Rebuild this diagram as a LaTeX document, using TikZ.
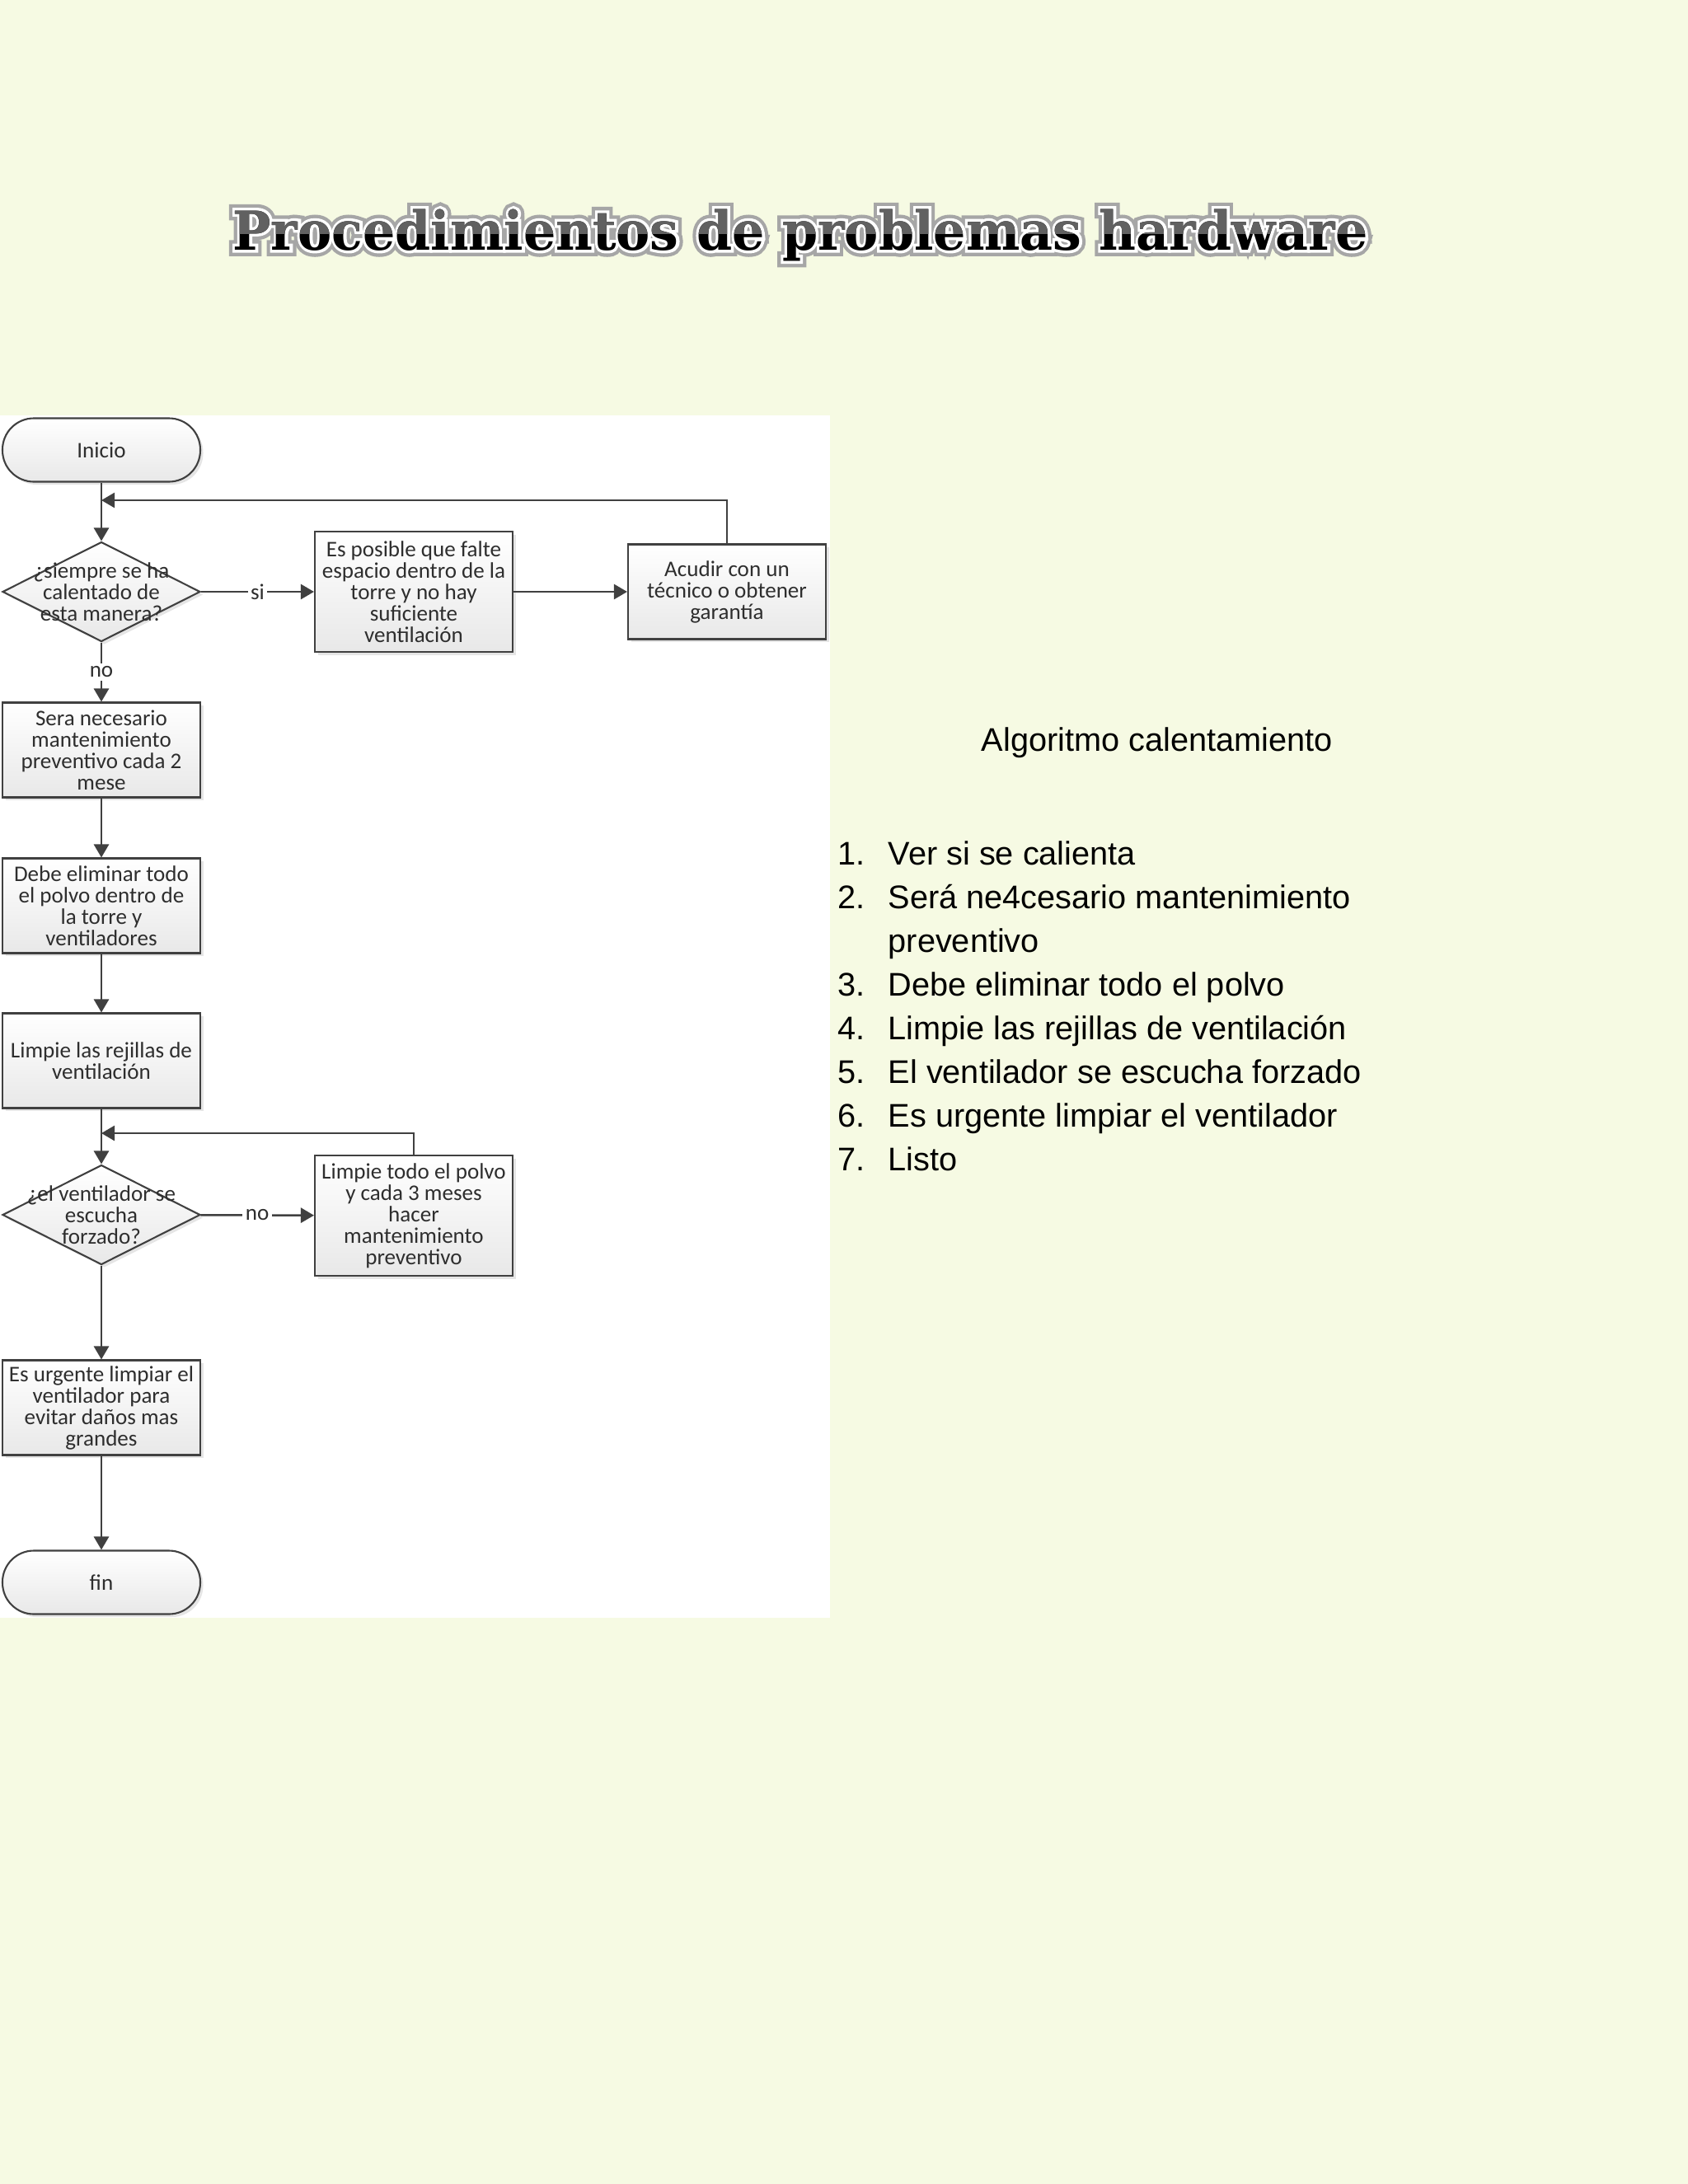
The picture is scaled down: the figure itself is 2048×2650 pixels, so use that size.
\documentclass[tikz,border=0pt]{standalone}
\usepackage{fontspec}
\setmainfont{Liberation Sans}
\newfontfamily\flowfont{Carlito}
\newfontfamily\titlefont{DejaVu Serif Bold}
\newfontfamily\titlerim{DejaVu Serif Bold}[FakeBold=10.8]
\newfontfamily\titlehalo{DejaVu Serif Bold}[FakeBold=24]
\usetikzlibrary{arrows.meta,shapes.geometric,shadows}

\definecolor{paper}{RGB}{246,250,227}
\definecolor{linegray}{RGB}{64,64,64}
\definecolor{boxgray}{RGB}{232,232,232}

\newcommand{\titletxt}{\scalebox{0.95}[1]{Procedimientos de problemas hardware}}

\tikzset{
  flow/.style={font=\flowfont\fontsize{7.7}{7.4}\selectfont, text=black!82, align=center},
  boxshade/.style={draw=linegray, line width=0.6pt, top color=white, bottom color=boxgray,
    drop shadow={shadow xshift=1pt, shadow yshift=-1pt, opacity=0.2}},
  process/.style={flow, boxshade, rectangle, minimum width=24mm, minimum height=11.5mm, inner sep=1pt},
  terminal/.style={flow, boxshade, rectangle, rounded corners=3.8mm, minimum width=24mm, minimum height=7.7mm},
  decision/.style={boxshade, diamond, minimum width=24mm, minimum height=12.1mm, inner sep=0pt},
  link/.style={draw=linegray, line width=0.7pt, -{Triangle[width=5.2pt,length=4.6pt]}},
  tag/.style={flow, fill=white, inner sep=1pt},
  titletext/.style={font=\titlefont\fontsize{18.5}{20}\selectfont, anchor=base, inner sep=0pt},
  item/.style={font=\fontsize{11.3}{15.1}\selectfont, anchor=base west, inner sep=0pt},
}

\begin{document}
\begin{tikzpicture}[x=0.1mm,y=-0.1mm]
\fill[paper] (0,0) rectangle (2048,2650);
\useasboundingbox (0,0) rectangle (2048,2650);

% title
\node[titletext, font=\titlehalo\fontsize{18.5}{20}\selectfont, text=black!35] (title-halo) at (971,303) {\titletxt};
\node[titletext, font=\titlerim\fontsize{18.5}{20}\selectfont, text=white] (title-rim) at (971,303) {\titletxt};
\node[titletext, text=black] (title) at (971,303) {\titletxt};
\begin{scope}
\clip (0,230) rectangle (2048,283);
\node[titletext, text=black!62] (title-top) at (971,303) {\titletxt};
\end{scope}

% flowchart
\fill[white] (0,504) rectangle (1007,1963);

\node[terminal] (inicio) at (123,546) {Inicio};
\node[decision, label={[flow]center:¿siempre se ha\\calentado de\\esta manera?}] (calienta) at (123,718) {};
\node[process, minimum height=14.6mm] (espacio) at (502,718) {Es posible que falte\\espacio dentro de la\\torre y no hay\\suficiente\\ventilación};
\node[process] (tecnico) at (882,718) {Acudir con un\\técnico o obtener\\garantía};
\node[process] (necesario) at (123,910) {Sera necesario\\mantenimiento\\preventivo cada 2\\mese};
\node[process] (polvo) at (123,1099) {Debe eliminar todo\\el polvo dentro de\\la torre y\\ventiladores};
\node[process] (rejillas) at (123,1287) {Limpie las rejillas de\\ventilación};
\node[decision, label={[flow]center:¿el ventilador se\\escucha\\forzado?}] (forzado) at (123,1474) {};
\node[process, minimum height=14.6mm] (limpiar) at (502,1475) {Limpie todo el polvo\\y cada 3 meses\\hacer\\mantenimiento\\preventivo};
\node[process] (urgente) at (123,1708) {Es urgente limpiar el\\ventilador para\\evitar daños mas\\grandes};
\node[terminal] (fin) at (123,1920) {fin};

\coordinate (back1) at (123,607);
\coordinate (back2) at (123,1375);

\draw[link] (inicio) -- (calienta);
\draw[link] (calienta) -- node[tag]{si} (espacio);
\draw[link] (espacio) -- (tecnico);
\draw[link] (tecnico.north) |- (back1);
\draw[link] (calienta) -- node[tag]{no} (necesario);
\draw[link] (necesario) -- (polvo);
\draw[link] (polvo) -- (rejillas);
\draw[link] (rejillas) -- (forzado);
\draw[link] (forzado) -- node[tag]{no} (limpiar);
\draw[link] (limpiar.north) |- (back2);
\draw[link] (forzado) -- (urgente);
\draw[link] (urgente) -- (fin);

% algorithm list
\node[item] (algo) at (1190,911) {Algoritmo calentamiento};
\foreach \num/\txt/\row in {1./Ver si se calienta/0, 2./Será ne4cesario mantenimiento/1,
    /preventivo/2, 3./Debe eliminar todo el polvo/3, 4./Limpie las rejillas de ventilación/4,
    5./El ventilador se escucha forzado/5, 6./Es urgente limpiar el ventilador/6, 7./Listo/7} {
  \node[item] (num-\row) at (1016,{1049+53.1*\row}) {\num};
  \node[item] (step-\row) at (1077,{1049+53.1*\row}) {\txt};
}
\end{tikzpicture}
\end{document}
